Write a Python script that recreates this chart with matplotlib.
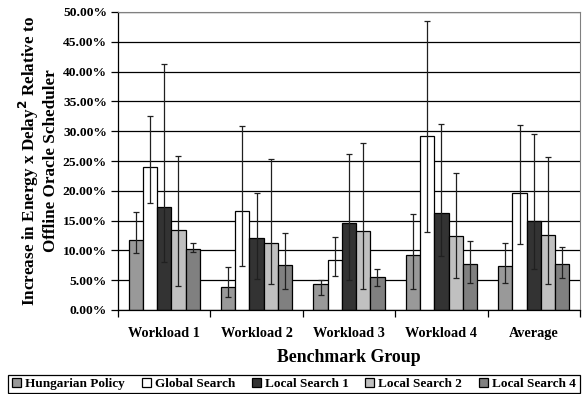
import matplotlib
matplotlib.use("Agg")
import matplotlib.pyplot as plt
from matplotlib.patches import Rectangle
import numpy as np

plt.rcParams['font.family'] = ['Liberation Serif', 'DejaVu Serif']
plt.rcParams['font.weight'] = 'bold'

groups = ['Workload 1', 'Workload 2', 'Workload 3', 'Workload 4', 'Average']
series = ['Hungarian Policy', 'Global Search', 'Local Search 1', 'Local Search 2', 'Local Search 4']
colors = ['#999999', '#ffffff', '#333333', '#c0c0c0', '#808080']

# mean values (%) per series, one entry per group
hungarian = [11.7, 3.9, 4.4, 9.3, 7.3]
global_search = [24.0, 16.6, 8.4, 29.2, 19.6]
local1 = [17.2, 12.0, 14.6, 16.2, 15.0]
local2 = [13.4, 11.2, 13.3, 12.5, 12.6]
local4 = [10.3, 7.5, 5.6, 7.8, 7.8]

# error bar upper / lower ends (%)
hungarian_hi = [16.4, 7.2, 5.1, 16.1, 11.2]
hungarian_lo = [9.5, 2.2, 2.5, 3.5, 4.5]
global_hi = [32.5, 30.9, 12.3, 48.5, 31.0]
global_lo = [18.0, 7.3, 5.7, 13.1, 11.1]
local1_hi = [41.2, 19.6, 26.1, 31.2, 29.5]
local1_lo = [8.0, 5.2, 5.0, 9.1, 6.8]
local2_hi = [25.9, 25.3, 28.1, 23.0, 25.6]
local2_lo = [4.1, 4.4, 3.6, 5.3, 4.3]
local4_hi = [11.2, 12.9, 6.8, 11.5, 10.6]
local4_lo = [9.7, 3.5, 4.0, 4.6, 5.4]

means = [hungarian, global_search, local1, local2, local4]
highs = [hungarian_hi, global_hi, local1_hi, local2_hi, local4_hi]
lows = [hungarian_lo, global_lo, local1_lo, local2_lo, local4_lo]

W, H = 584, 394
fig = plt.figure(figsize=(W / 100, H / 100), dpi=100)
ax = fig.add_axes([118 / W, 1 - 310 / H, 462 / W, 298 / H])

x = np.arange(len(groups)) + 0.5
w = 0.154
for k in range(len(series)):
    m = np.array(means[k])
    hi = np.array(highs[k]) - m
    lo = m - np.array(lows[k])
    pos = x + (k - 2) * w
    ax.bar(pos, m, w, color=colors[k], edgecolor='black', linewidth=0.9,
           label=series[k], zorder=2)
    ax.errorbar(pos, m, yerr=[lo, hi], fmt='none', ecolor='#202020',
                elinewidth=0.9, capsize=2.5, capthick=0.9, zorder=3)

ax.set_xlim(0, len(groups))
ax.set_ylim(0, 50)
ax.set_yticks(np.arange(0, 51, 5))
ax.set_yticklabels(['%.2f%%' % v for v in np.arange(0, 51, 5)], fontsize=9.7, fontweight='bold')
ax.set_xticks(np.arange(0, len(groups) + 1))
ax.set_xticklabels([])
ax.set_xticks(x, minor=True)
ax.set_xticklabels(groups, minor=True, fontsize=10.3, fontweight='bold')
ax.tick_params(axis='x', which='minor', length=0, pad=12)
ax.tick_params(axis='x', which='major', length=5, direction='out', width=0.9)
ax.tick_params(axis='y', length=5, direction='out', width=0.9, pad=3)

ax.yaxis.grid(True, color='black', linewidth=0.9, zorder=0)
ax.set_axisbelow(True)
for s in ['top', 'right']:
    ax.spines[s].set_color('#808080')
for s in ['left', 'bottom']:
    ax.spines[s].set_color('black')
    ax.spines[s].set_linewidth(0.9)

ax.set_xlabel('Benchmark Group', fontsize=12.8, fontweight='bold', labelpad=7)
fig.text(38 / W, 1 - 161 / H,
         'Increase in Energy x Delay$^\\mathbf{2}$ Relative to\nOffline Oracle Scheduler',
         rotation=90, ha='center', va='center', fontsize=12.3, fontweight='bold',
         linespacing=1.1)

# legend frame drawn separately, entries centred inside
fig.patches.append(Rectangle((8 / W, 1 / H), 572 / W, 18 / H, transform=fig.transFigure,
                             facecolor='white', edgecolor='black', linewidth=0.9))
leg = fig.legend(loc='center', ncol=5, bbox_to_anchor=(294 / W, 1 - 384 / H),
                 fontsize=9.5, frameon=False, borderpad=0,
                 handlelength=0.7, handleheight=0.7, handletextpad=0.3,
                 columnspacing=1.25)
for t in leg.get_texts():
    t.set_fontweight('bold')

fig.savefig('out.png', dpi=100)
